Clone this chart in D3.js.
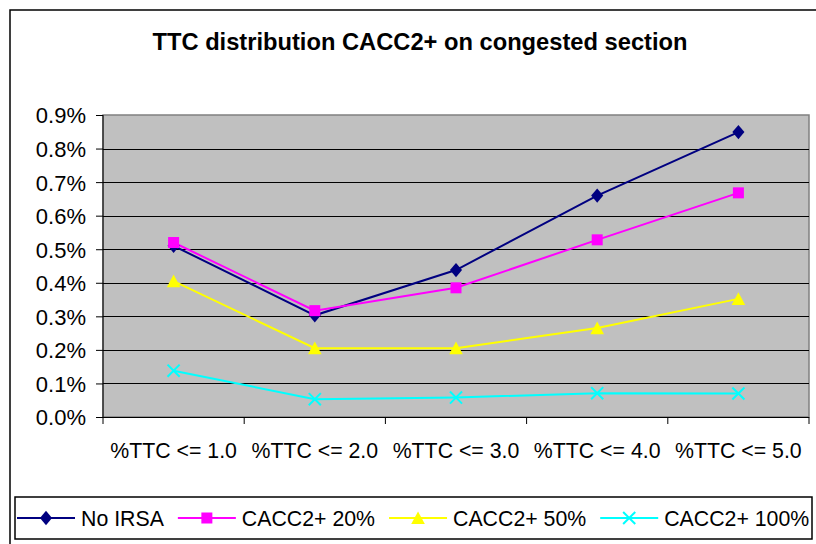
<!DOCTYPE html>
<html>
<head>
<meta charset="utf-8">
<script src="https://cdn.jsdelivr.net/npm/d3@7"></script>
<style>
  html, body { margin: 0; padding: 0; background: #fff; }
  svg { display: block; }
  text { font-family: "Liberation Sans", Arial, sans-serif; fill: #000; }
</style>
</head>
<body>
<svg id="chart" width="816" height="544"></svg>
<script>
// ---- data ----
const title = "TTC distribution CACC2+ on congested section";
const categories = ["%TTC <= 1.0", "%TTC <= 2.0", "%TTC <= 3.0", "%TTC <= 4.0", "%TTC <= 5.0"];
const seriesNames = ["No IRSA", "CACC2+ 20%", "CACC2+ 50%", "CACC2+ 100%"];
const noIrsa   = [0.51, 0.303, 0.438, 0.66, 0.849];
const cacc20   = [0.52, 0.317, 0.385, 0.528, 0.668];
const cacc50   = [0.405, 0.205, 0.205, 0.265, 0.352];
const cacc100  = [0.138, 0.053, 0.058, 0.071, 0.070];
const yTicks   = [0, 0.1, 0.2, 0.3, 0.4, 0.5, 0.6, 0.7, 0.8, 0.9];
const colors   = ["#000080", "#FF00FF", "#FFFF00", "#00FFFF"];
const markers  = ["diamond", "square", "triangle", "x"];

const series = seriesNames.map((name, i) => ({
  name, color: colors[i], marker: markers[i],
  values: [noIrsa, cacc20, cacc50, cacc100][i]
}));

// ---- layout ----
const svg = d3.select("#chart");
const plot = { left: 103, right: 809, top: 115, bottom: 417 };

// outer frame
svg.append("rect").attr("x", 10).attr("y", 10).attr("width", 830).attr("height", 560)
  .attr("fill", "#fff").attr("stroke", "#000").attr("stroke-width", 1.5);

// title
svg.append("text").attr("x", 420).attr("y", 50).attr("text-anchor", "middle")
  .attr("font-weight", "bold").attr("font-size", 23.7).text(title);

const x = d3.scaleBand().domain(categories).range([plot.left, plot.right]).padding(0);
const y = d3.scaleLinear().domain([0, 0.9]).range([plot.bottom, plot.top]);

// plot area
svg.append("rect").attr("x", plot.left).attr("y", plot.top)
  .attr("width", plot.right - plot.left).attr("height", plot.bottom - plot.top)
  .attr("fill", "#C0C0C0").attr("stroke", "#808080").attr("stroke-width", 1.5);

// gridlines
svg.append("g").selectAll("line").data(yTicks.filter(t => t > 0 && t < 0.9)).join("line")
  .attr("x1", plot.left).attr("x2", plot.right)
  .attr("y1", d => Math.round(y(d)) + 0.5).attr("y2", d => Math.round(y(d)) + 0.5)
  .attr("stroke", "#000").attr("stroke-width", 1);

// y axis
const yAxis = d3.axisLeft(y).tickValues(yTicks).tickSize(7).tickPadding(10)
  .tickFormat(d => d.toFixed(1) + "%");
const gy = svg.append("g").attr("transform", `translate(${plot.left},0)`).call(yAxis);
gy.select(".domain").attr("stroke", "#000").attr("d", `M0,${plot.top}V${plot.bottom}`);
gy.selectAll(".tick line").attr("stroke", "#000");
gy.selectAll(".tick text").attr("font-size", 22).attr("font-family", "Liberation Sans, Arial, sans-serif")
  .attr("fill", "#000").attr("dy", "0.36em");

// x axis (ticks at category boundaries)
const gx = svg.append("g").attr("transform", `translate(0,${plot.bottom})`);
gx.append("line").attr("x1", plot.left).attr("x2", plot.right).attr("y1", 0.5).attr("y2", 0.5)
  .attr("stroke", "#000");
const bounds = categories.map(c => x(c)).concat([x(categories[categories.length - 1]) + x.bandwidth()]);
gx.selectAll("line.tk").data(bounds).join("line").attr("class", "tk")
  .attr("x1", d => d).attr("x2", d => d).attr("y1", 0).attr("y2", 7).attr("stroke", "#000");
gx.selectAll("text").data(categories).join("text")
  .attr("x", d => x(d) + x.bandwidth() / 2).attr("y", 41).attr("text-anchor", "middle")
  .attr("font-size", 21.3).text(d => d);

// marker drawing
function drawMarker(g, type, color, size) {
  const s = size;
  if (type === "diamond") {
    g.append("path").attr("d", `M0,${-s*0.65}L${s*0.55},0L0,${s*0.65}L${-s*0.55},0Z`).attr("fill", color);
  } else if (type === "square") {
    g.append("rect").attr("x", -s/2).attr("y", -s/2).attr("width", s).attr("height", s).attr("fill", color);
  } else if (type === "triangle") {
    g.append("path").attr("d", `M0,${-s*0.6}L${s*0.62},${s*0.55}L${-s*0.62},${s*0.55}Z`).attr("fill", color);
  } else if (type === "x") {
    const h = s * 0.55;
    g.append("path").attr("d", `M${-h},${-h}L${h},${h}M${-h},${h}L${h},${-h}`)
      .attr("stroke", color).attr("stroke-width", 2).attr("fill", "none");
  }
}

// series lines
const line = d3.line().x((d, i) => x(categories[i]) + x.bandwidth() / 2).y(d => y(d));
series.forEach(s => {
  svg.append("path").datum(s.values).attr("d", line).attr("fill", "none")
    .attr("stroke", s.color).attr("stroke-width", 2);
});
// markers (drawn after lines, in series order)
series.forEach(s => {
  s.values.forEach((v, i) => {
    const g = svg.append("g").attr("transform",
      `translate(${x(categories[i]) + x.bandwidth() / 2},${y(v)})`);
    drawMarker(g, s.marker, s.color, 11);
  });
});

// legend
const legBox = { x: 15, y: 497, w: 797, h: 42 };
svg.append("rect").attr("x", legBox.x).attr("y", legBox.y).attr("width", legBox.w).attr("height", legBox.h)
  .attr("fill", "#fff").attr("stroke", "#000").attr("stroke-width", 1.5);
const leg = svg.append("g");
const ly = legBox.y + legBox.h / 2;
let cx = 17;
series.forEach(s => {
  leg.append("line").attr("x1", cx).attr("x2", cx + 58).attr("y1", ly).attr("y2", ly)
    .attr("stroke", s.color).attr("stroke-width", 2);
  const mg = leg.append("g").attr("transform", `translate(${cx + 29},${ly})`);
  drawMarker(mg, s.marker, s.color, 11);
  const t = leg.append("text").attr("x", cx + 64).attr("y", ly + 7.5).attr("font-size", 21.3).text(s.name);
  cx += 64 + t.node().getComputedTextLength() + 14;
});
</script>
</body>
</html>
